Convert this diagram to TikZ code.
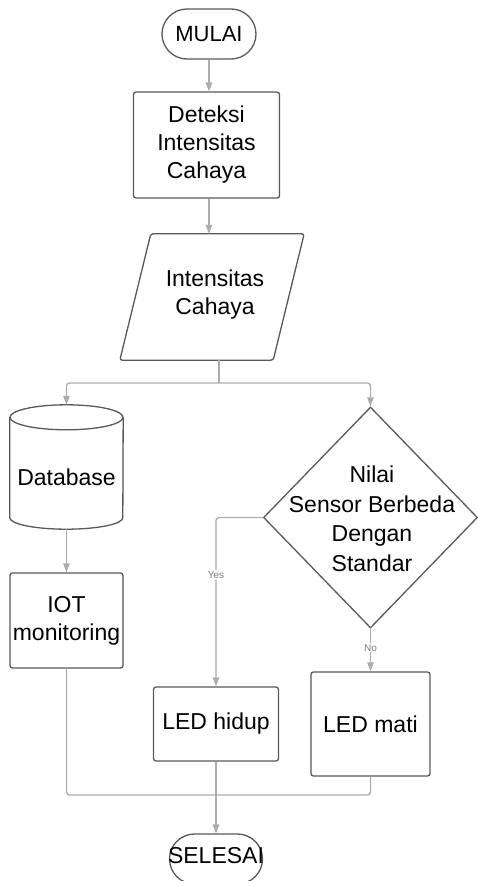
\documentclass[tikz,border=0pt]{standalone}
\usepackage{fontspec}
\setmainfont{Liberation Sans}
\usetikzlibrary{shapes.geometric,arrows.meta,calc}
\definecolor{conncol}{RGB}{172,172,172}
\definecolor{bord}{RGB}{88,88,88}
\definecolor{lblcol}{RGB}{125,125,125}
\begin{document}
\begin{tikzpicture}[x=1pt,y=-1pt,
  txt/.style={font=\fontsize{23}{28}\selectfont, align=center, text=black},
  shapeline/.style={draw=bord, line width=1.3pt},
  procbox/.style={txt, shapeline, rounded corners=2.5pt, inner sep=0pt},
  term/.style={shapeline, rounded corners=25pt, inner sep=0pt},
  conn/.style={draw=conncol, line width=1.3pt, rounded corners=3pt},
  arr/.style={conn, -{Triangle[length=9pt,width=6.5pt]}},
  lab/.style={font=\fontsize{10}{11}\selectfont, text=lblcol, fill=white, inner sep=1pt}]
\useasboundingbox (0,0) rectangle (478,881);

% start
\node[term, minimum width=94pt, minimum height=50pt] (mulai) at (209,34) {};
\node[txt, font=\fontsize{22}{26}\selectfont] (mulait) at (mulai.center) {MULAI};

% process
\node[procbox, minimum width=146pt, minimum height=106pt] (det) at (206.5,145) {Deteksi\\Intensitas\\Cahaya};

% input/output parallelogram
\node[txt, minimum width=184pt, minimum height=126pt, inner sep=0pt] (par) at (212,297) {};
\draw[shapeline, rounded corners=2.5pt] ($(par.north west)+(31,0)$) -- (par.north east) -- ($(par.south east)+(-31,0)$) -- (par.south west) -- cycle;
\node[txt] (part) at (215,295) {Intensitas\\Cahaya};

% database cylinder
\node[minimum width=113pt, minimum height=124pt, inner sep=0pt] (db) at (66.5,467) {};
\draw[shapeline] ($(db.north)+(0,12.5)$) ellipse [x radius=56.5pt, y radius=12.5pt];
\draw[shapeline] ($(db.north west)+(0,12.5)$) -- ($(db.south west)+(0,-11.5)$)
  arc[start angle=180, end angle=360, x radius=56.5pt, y radius=11.5pt]
  -- ($(db.north east)+(0,12.5)$);
\node[txt] (dbt) at ($(db.center)+(0,10)$) {Database};

% IOT
\node[procbox, minimum width=113pt, minimum height=95pt] (iot) at (66.5,620.5) {IOT\\monitoring};

% decision
\node[diamond, shapeline, minimum width=214pt, minimum height=221pt, inner sep=0pt] (dec) at (370.5,517.5) {};
\node[txt, font=\fontsize{23}{29.5}\selectfont] (dect) at (372,519) {Nilai\\Sensor Berbeda\\Dengan\\Standar};

% LEDs
\node[procbox, minimum width=125pt, minimum height=74pt] (ledh) at (216,724) {LED hidup};
\node[procbox, minimum width=119pt, minimum height=104pt] (ledm) at (370.5,724) {LED mati};

% end
\node[term, minimum width=93pt, minimum height=50pt] (sel) at (216,859) {};
\node[txt] (selt) at (216,856) {SELESAI};

% connectors
\draw[arr] (mulai.south) -- (mulai.south |- det.north);
\draw[arr] ([xshift=2.5pt]det.south) -- ([xshift=2.5pt]det.south |- par.north);
\coordinate (split) at (219,383);
\draw[conn] (split |- par.south) -- (split);
\draw[arr] (split) -| (db.north);
\draw[arr] (split) -| (dec.north);
\draw[arr] (db.south) -- (iot.north);
\draw[arr] (dec.west) -| node[lab, pos=0.67] {Yes} (ledh.north);
\draw[arr] (dec.south) -- node[lab, pos=0.45] {No} (ledm.north);
\coordinate (merge) at (216,795);
\draw[conn] (iot.south) |- (merge);
\draw[conn] (ledm.south) |- (merge);
\draw[arr] (ledh.south) -- (sel.north);
\end{tikzpicture}
\end{document}
